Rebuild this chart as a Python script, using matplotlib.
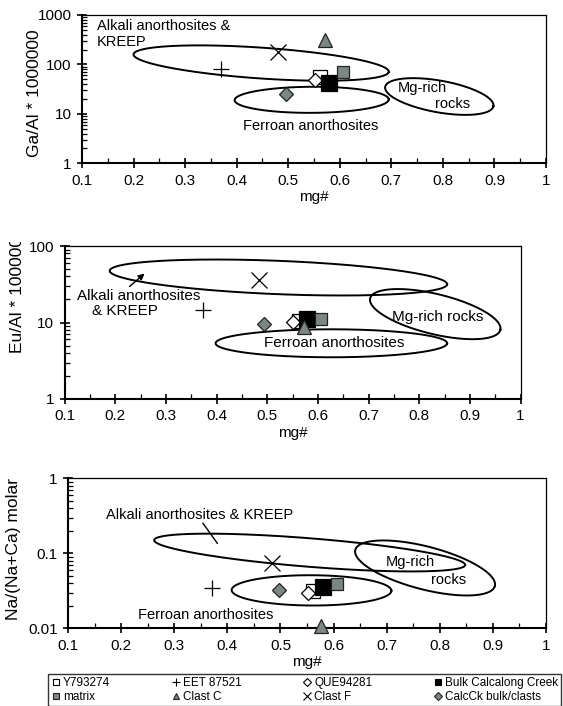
import numpy as np
import matplotlib
matplotlib.use("Agg")
import matplotlib.pyplot as plt
from matplotlib.lines import Line2D
from matplotlib.ticker import FixedLocator, FuncFormatter, LogLocator, NullFormatter
from matplotlib.transforms import Bbox, TransformedBbox

plt.rcParams['font.family'] = ['Liberation Sans', 'DejaVu Sans']

# ---------------- data ----------------
samples = ['Y793274', 'EET 87521', 'QUE94281', 'Bulk Calcalong Creek',
           'matrix', 'Clast C', 'Clast F', 'CalcCk bulk/clasts']

# Panel 1: Ga/Al * 1e6 vs mg#
mg_ga = [0.562, 0.369, 0.552, 0.580, 0.606, 0.572, 0.481, 0.496]
ga_al = [56.5, 80, 48.4, 41.5, 71, 310, 180, 25.2]

# Panel 2: Eu/Al * 1e6 vs mg#
mg_eu = [0.562, 0.373, 0.550, 0.579, 0.607, 0.573, 0.483, 0.494]
eu_al = [10.6, 14.6, 10.1, 11.0, 11.1, 8.7, 36, 9.7]

# Panel 3: Na/(Na+Ca) molar vs mg#
mg_na = [0.561, 0.371, 0.551, 0.581, 0.606, 0.576, 0.484, 0.498]
na_naca = [0.0311, 0.034, 0.0300, 0.0355, 0.039, 0.0108, 0.075, 0.0324]

# field ellipses: (major-axis end 1, major-axis end 2, semi-minor as axes-height fraction)
fields_ga = {
    'Alkali': ((0.200, 160), (0.695, 71), 0.104),
    'Ferroan': ((0.396, 18.9), (0.695, 19.6), 0.088),
    'Mg-rich': ((0.688, 35.2), (0.898, 14.3), 0.107),
}
fields_eu = {
    'Alkali': ((0.189, 47.5), (0.855, 31.6), 0.109),
    'Ferroan': ((0.398, 5.35), (0.855, 5.35), 0.0915),
    'Mg-rich': ((0.703, 20.7), (0.960, 8.0), 0.131),
}
fields_na = {
    'Alkali': ((0.262, 0.150), (0.848, 0.0698), 0.095),
    'Ferroan': ((0.408, 0.0324), (0.709, 0.0317), 0.101),
    'Mg-rich': ((0.641, 0.111), (0.904, 0.0366), 0.143),
}

x_ticks = [0.1, 0.2, 0.3, 0.4, 0.5, 0.6, 0.7, 0.8, 0.9, 1.0]
x_tick_labels = ['0.1', '0.2', '0.3', '0.4', '0.5', '0.6', '0.7', '0.8', '0.9', '1']

GREY = '#7b8783'
styles = {
    'Y793274': dict(marker='s', ms=9.5, mfc='white', mec='black', mew=0.9),
    'EET 87521': dict(marker='+', ms=11.5, mec='black', mew=0.9),
    'QUE94281': dict(marker='D', ms=6.8, mfc='white', mec='black', mew=0.9),
    'Bulk Calcalong Creek': dict(marker='s', ms=11.5, mfc='black', mec='black', mew=0.9),
    'matrix': dict(marker='s', ms=9.0, mfc=GREY, mec='#222222', mew=0.9),
    'Clast C': dict(marker='^', ms=10.5, mfc=GREY, mec='#222222', mew=0.9),
    'Clast F': dict(marker='x', ms=11.5, mec='black', mew=0.9),
    'CalcCk bulk/clasts': dict(marker='D', ms=6.8, mfc=GREY, mec='#222222', mew=0.9),
}

W, H = 563, 706
fig = plt.figure(figsize=(W / 100, H / 100), dpi=100)
fig.patch.set_facecolor('white')

TICK_FS = 11
LAB_FS = 12.5
FS = 10.5


def px_axes(left, right, top, bottom):
    return fig.add_axes([left / W, 1 - bottom / H, (right - left) / W, (bottom - top) / H])


def style_axes(ax, ylim, yticks):
    ax.set_xlim(0.1, 1.0)
    ax.set_yscale('log')
    ax.set_ylim(*ylim)
    ax.xaxis.set_major_locator(FixedLocator(x_ticks))
    ax.set_xticklabels(x_tick_labels)
    ax.xaxis.set_minor_locator(FixedLocator([0.15, 0.25, 0.35, 0.45, 0.55, 0.65, 0.75, 0.85, 0.95]))
    ax.yaxis.set_major_locator(FixedLocator(yticks))
    ax.yaxis.set_major_formatter(FuncFormatter(lambda v, p: '%g' % v))
    ax.yaxis.set_minor_locator(LogLocator(base=10, subs=np.arange(2, 10)))
    ax.yaxis.set_minor_formatter(NullFormatter())
    ax.tick_params(which='major', direction='inout', length=7, width=1.2, labelsize=TICK_FS, pad=4,
                   top=False, right=False)
    ax.tick_params(which='minor', direction='in', length=3.5, width=0.9, top=False, right=False)
    for s in ['left', 'bottom']:
        ax.spines[s].set_linewidth(1.5)
    for s in ['top', 'right']:
        ax.spines[s].set_linewidth(0.9)
    ax.set_xlabel('mg#', fontsize=TICK_FS, labelpad=2)


def draw_field(ax, field):
    p1, p2, bfrac = field
    T = ax.transData
    P1 = T.transform(p1)
    P2 = T.transform(p2)
    c = (P1 + P2) / 2
    d = P2 - P1
    a = np.hypot(*d) / 2
    ang = np.arctan2(d[1], d[0])
    b = bfrac * ax.bbox.height
    t = np.linspace(0, 2 * np.pi, 500)
    ex, ey = a * np.cos(t), b * np.sin(t)
    X = c[0] + ex * np.cos(ang) - ey * np.sin(ang)
    Y = c[1] + ex * np.sin(ang) + ey * np.cos(ang)
    pts = T.inverted().transform(np.column_stack([X, Y]))
    ax.plot(pts[:, 0], pts[:, 1], color='black', lw=1.4, zorder=2)


def draw_points(ax, xs, ys):
    for name, x, y in zip(samples, xs, ys):
        ax.plot([x], [y], linestyle='none', zorder=3, clip_on=False, **styles[name])


# ---------------- panel 1 ----------------
ax1 = px_axes(82, 546, 15, 163.3)
style_axes(ax1, (1, 1000), [1, 10, 100, 1000])
for f in fields_ga.values():
    draw_field(ax1, f)
draw_points(ax1, mg_ga, ga_al)
ax1.text(0.129, 600, 'Alkali anorthosites &', fontsize=FS, ha='left', va='center')
ax1.text(0.129, 290, 'KREEP', fontsize=FS, ha='left', va='center')
ax1.text(0.761, 33, 'Mg-rich', fontsize=FS, ha='center', va='center')
ax1.text(0.818, 15.9, 'rocks', fontsize=FS, ha='center', va='center')
ax1.text(0.544, 5.7, 'Ferroan anorthosites', fontsize=FS, ha='center', va='center')
ax1.set_ylabel('Ga/Al * 1000000', fontsize=LAB_FS)
ax1.yaxis.set_label_coords(-0.086, 0.47)

# ---------------- panel 2 ----------------
ax2 = px_axes(64.6, 520.6, 246, 399)
style_axes(ax2, (1, 100), [1, 10, 100])
for f in fields_eu.values():
    draw_field(ax2, f)
draw_points(ax2, mg_eu, eu_al)
ax2.annotate('', xy=(0.262, 46), xytext=(0.224, 28),
             arrowprops=dict(arrowstyle='-|>', color='black', lw=1.0, mutation_scale=9))
ax2.text(0.246, 22.2, 'Alkali anorthosites', fontsize=11, ha='center', va='center')
ax2.text(0.219, 14.3, '& KREEP', fontsize=11, ha='center', va='center')
ax2.text(0.836, 11.9, 'Mg-rich rocks', fontsize=11, ha='center', va='center')
ax2.text(0.633, 5.35, 'Ferroan anorthosites', fontsize=11, ha='center', va='center')
lab2 = fig.text(18 / W, 1 - 353 / H, 'Eu/Al * 1000000', fontsize=LAB_FS, rotation=90,
                ha='center', va='bottom')
clip = TransformedBbox(Bbox.from_extents(0, 0, W / 100, (H - 242) / 100), fig.dpi_scale_trans)
lab2.set_clip_box(clip)
lab2.set_clip_on(True)

# ---------------- panel 3 ----------------
ax3 = px_axes(68.2, 545.8, 478.3, 628.3)
style_axes(ax3, (0.01, 1), [0.01, 0.1, 1])
for f in fields_na.values():
    draw_field(ax3, f)
draw_points(ax3, mg_na, na_naca)
ax3.plot([0.354, 0.381], [0.251, 0.136], color='black', lw=1.0)
ax3.text(0.347, 0.324, 'Alkali anorthosites & KREEP', fontsize=FS, ha='center', va='center')
ax3.text(0.745, 0.0773, 'Mg-rich', fontsize=FS, ha='center', va='center')
ax3.text(0.817, 0.044, 'rocks', fontsize=FS, ha='center', va='center')
ax3.text(0.359, 0.015, 'Ferroan anorthosites', fontsize=FS, ha='center', va='center')
ax3.set_ylabel('Na/(Na+Ca) molar', fontsize=LAB_FS)
ax3.yaxis.set_label_coords(-0.098, 0.53)

# ---------------- legend ----------------
leg_style = {
    'Y793274': dict(marker='s', ms=5, mfc='white', mec='black', mew=0.8),
    'EET 87521': dict(marker='+', ms=6, mec='black', mew=0.8),
    'QUE94281': dict(marker='D', ms=3.6, mfc='white', mec='black', mew=0.8),
    'Bulk Calcalong Creek': dict(marker='s', ms=5, mfc='black', mec='black', mew=0.8),
    'matrix': dict(marker='s', ms=5, mfc=GREY, mec='#222222', mew=0.8),
    'Clast C': dict(marker='^', ms=5, mfc=GREY, mec='#222222', mew=0.8),
    'Clast F': dict(marker='x', ms=6, mec='black', mew=0.8),
    'CalcCk bulk/clasts': dict(marker='D', ms=3.6, mfc=GREY, mec='#222222', mew=0.8),
}
order = ['Y793274', 'matrix', 'EET 87521', 'Clast C', 'QUE94281', 'Clast F',
         'Bulk Calcalong Creek', 'CalcCk bulk/clasts']
handles = [Line2D([], [], linestyle='none', **leg_style[n]) for n in order]
leg = fig.legend(handles, order, loc='lower left', ncol=4, mode='expand',
                 bbox_to_anchor=(48 / W, 0.0, (561 - 48) / W, (706 - 677) / H),
                 fontsize=8.5, frameon=True, fancybox=False, borderpad=0.25,
                 handlelength=0.8, handletextpad=0.2, labelspacing=0.15,
                 borderaxespad=0.0, columnspacing=0.5)
leg.get_frame().set_edgecolor('black')
leg.get_frame().set_linewidth(1.0)

fig.savefig('out.png', dpi=100, facecolor='white')
